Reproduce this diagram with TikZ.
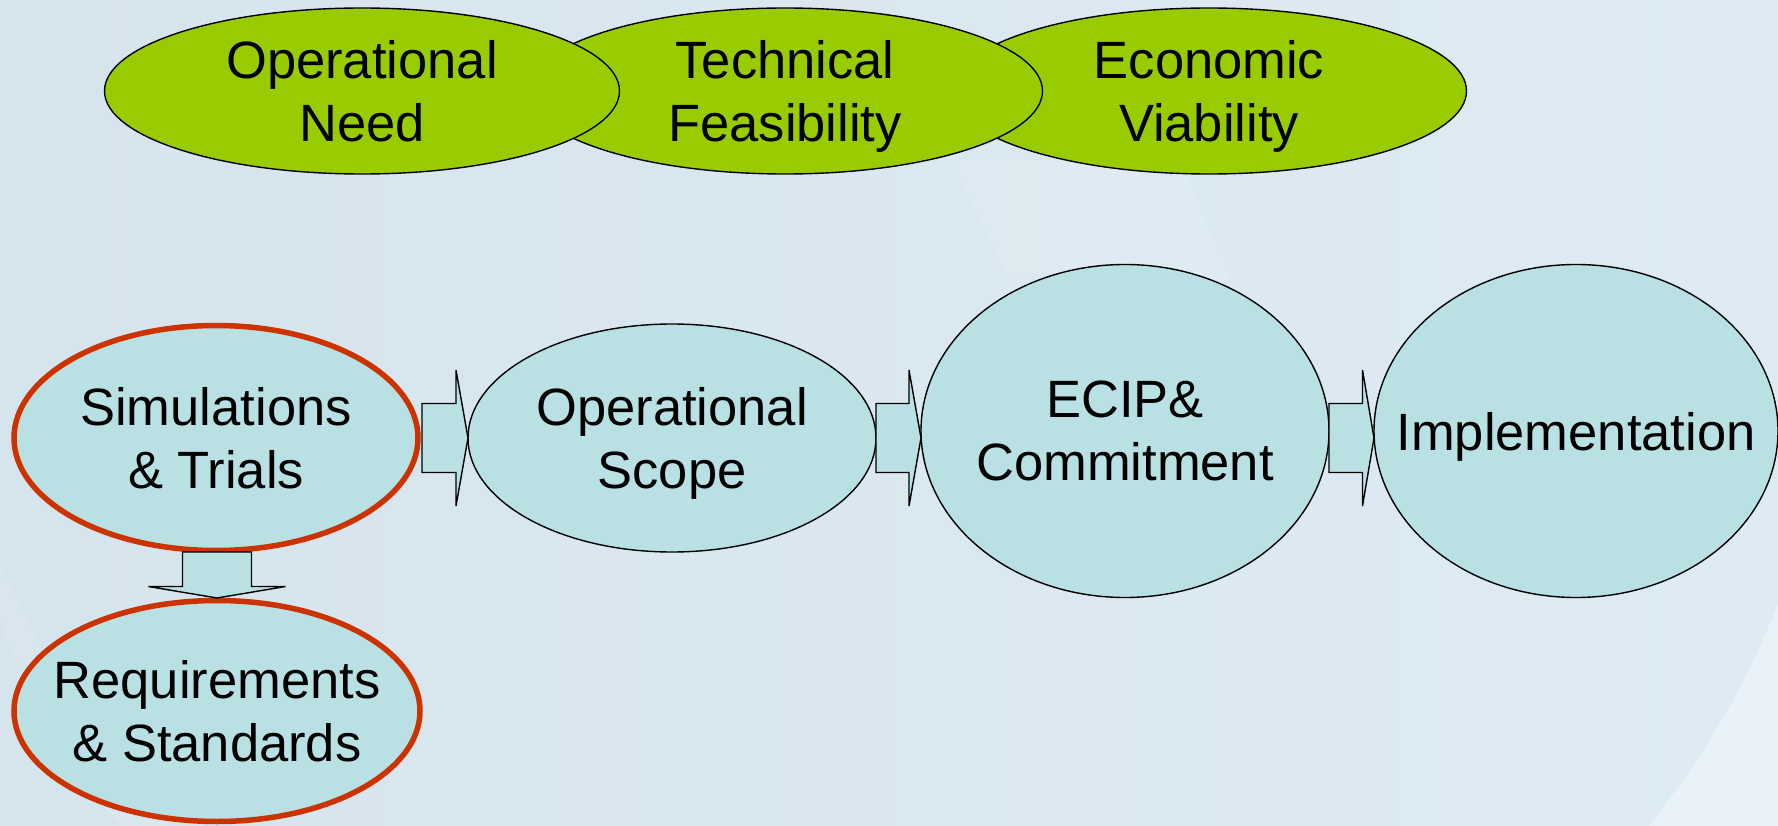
\documentclass[tikz,border=0pt]{standalone}
\usepackage{fontspec}
\setmainfont{Liberation Sans}
\usetikzlibrary{shapes.geometric,calc}
\definecolor{ovgreen}{HTML}{99CC00}
\definecolor{ovblue}{HTML}{B9E0E3}
\definecolor{ovred}{HTML}{CC3300}
\definecolor{bgA}{HTML}{D6E4ED}
\definecolor{bgB}{HTML}{DEEBF3}
\definecolor{bgC}{HTML}{E9F2F8}
\newcommand\nodepth[1]{\raisebox{0pt}[\height][-6pt]{#1}}
\newcommand\labfont{\fontsize{52.5}{63}\selectfont}
\begin{document}
\begin{tikzpicture}[x=1pt,y=-1pt,
  ov/.style={ellipse, draw=black, line width=1.4pt, inner xsep=-150pt, inner ysep=-60pt, outer sep=0pt, align=center, font=\labfont},
  topov/.style={ov, fill=ovgreen, minimum width=515pt, minimum height=166pt},
  botov/.style={ov, fill=ovblue},
  redov/.style={botov, draw=ovred, line width=5.5pt},
  blockarrow/.style={draw=black, line width=1.4pt, fill=ovblue, line join=miter}]
\useasboundingbox (0,0) rectangle (1778,826);
% background
\shade[left color=bgA, right color=bgB] (0,0) rectangle (1778,826);
\begin{scope}
  \clip (1300,0) rectangle (1778,826);
  \fill[bgC, even odd rule] (1000,300) circle (835) (0,0) rectangle (1778,826);
\end{scope}
\fill[white, opacity=0.12] (952,160) -- (1180,160) -- (1230,280) -- (1005,272) -- cycle;
\fill[white, opacity=0.10] (0,560) .. controls (60,700) and (120,780) .. (170,826) -- (120,826) .. controls (60,760) and (20,680) .. (0,620) -- cycle;
% top row
\node[topov] (ev) at (1209,91) {Economic\\\nodepth{Viability}};
\node[topov] (tf) at (785,91) {Technical\\\nodepth{Feasibility}};
\node[topov] (on) at (362,91) {Operational\\\nodepth{Need}};
% bottom row
\node[redov, minimum width=404pt, minimum height=225pt] (sim) at (216,438) {Simulations\\\nodepth{\& Trials}};
\node[redov, minimum width=406pt, minimum height=221pt] (req) at (217,711) {Requirements\\\nodepth{\& Standards}};
\node[botov, minimum width=408pt, minimum height=228pt] (scope) at (672,438) {Operational\\\nodepth{Scope}};
\node[botov, minimum width=408pt, minimum height=333pt] (ecip) at (1125,431) {ECIP\&\\\nodepth{Commitment}};
\node[botov, minimum width=404pt, minimum height=333pt] (impl) at (1576,431) {\nodepth{Implementation}};
% block arrows
\draw[blockarrow] let \p1=(sim.east), \p2=(scope.west), \p3=(sim.east) in
  (\x1+4pt,\y3+34.5pt) -- (\x2-12pt,\y3+34.5pt) -- (\x2-12pt,\y3+68pt) -- (\x2,\y3)
  -- (\x2-12pt,\y3-68pt) -- (\x2-12pt,\y3-34.5pt) -- (\x1+4pt,\y3-34.5pt) -- cycle;
\draw[blockarrow] let \p1=(scope.east), \p2=(ecip.west), \p3=(scope.east) in
  (\x1,\y3+34.5pt) -- (\x2-12pt,\y3+34.5pt) -- (\x2-12pt,\y3+68pt) -- (\x2,\y3)
  -- (\x2-12pt,\y3-68pt) -- (\x2-12pt,\y3-34.5pt) -- (\x1,\y3-34.5pt) -- cycle;
\draw[blockarrow] let \p1=(ecip.east), \p2=(impl.west), \p3=(scope.east) in
  (\x1,\y3+34.5pt) -- (\x2-11.5pt,\y3+34.5pt) -- (\x2-11.5pt,\y3+68pt) -- (\x2,\y3)
  -- (\x2-11.5pt,\y3-68pt) -- (\x2-11.5pt,\y3-34.5pt) -- (\x1,\y3-34.5pt) -- cycle;
\draw[blockarrow] let \p1=(sim.south), \p2=(req.north) in
  (\x2-34.5pt,\y1-1.5pt) -- (\x2+34.5pt,\y1-1.5pt) -- (\x2+34.5pt,\y2+14pt) -- (\x2+68.5pt,\y2+14pt)
  -- (\x2,\y2+2.5pt) -- (\x2-68.5pt,\y2+14pt) -- (\x2-34.5pt,\y2+14pt) -- cycle;
\end{tikzpicture}
\end{document}
